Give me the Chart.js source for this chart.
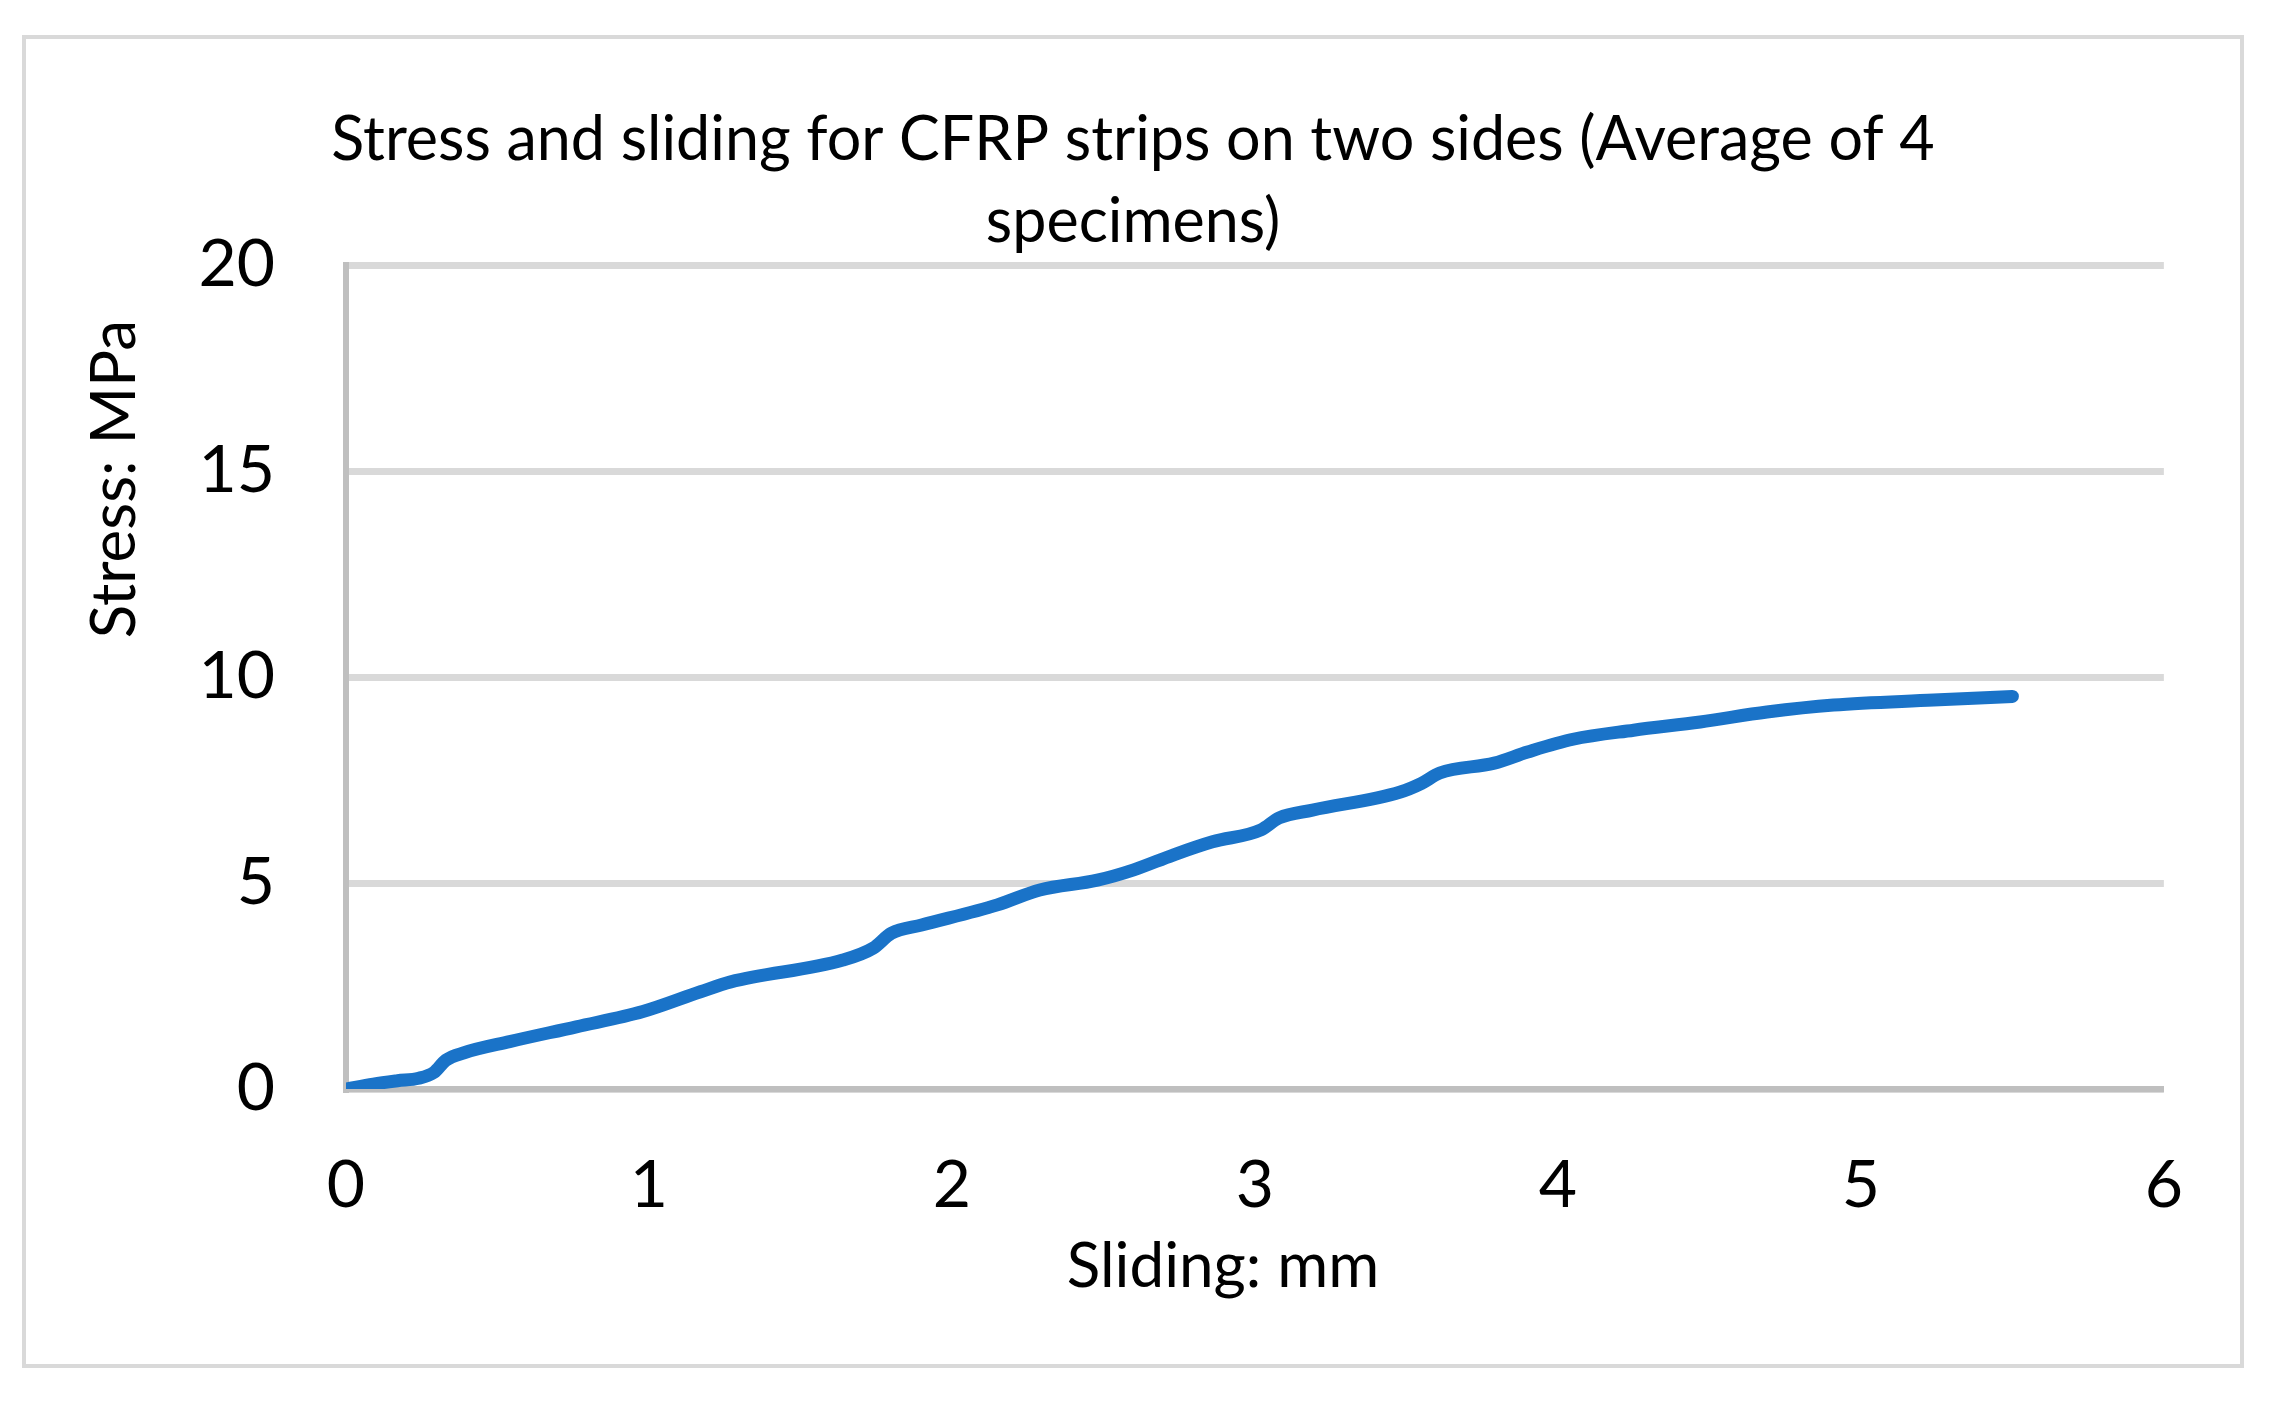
<!DOCTYPE html>
<html>
<head>
<meta charset="utf-8">
<script src="https://cdn.jsdelivr.net/npm/chart.js@4/dist/chart.umd.min.js"></script>
<style>
  html, body { margin: 0; padding: 0; background: #fff; }
  #box {
    position: absolute;
    left: 22px;
    top: 35px;
    width: 2214px;
    height: 1325px;
    border: 4px solid #d9d9d9;
    background: #fff;
  }
</style>
</head>
<body>
<div id="box"><canvas id="stress-chart" width="2214" height="1325"></canvas></div>
<script>
// Sliding (mm) and stress (MPa)
const sliding = [0, 0.09, 0.17, 0.24, 0.29, 0.33, 0.39, 0.54, 0.76, 0.98, 1.17, 1.27, 1.64, 1.74, 1.8, 1.9, 2.15, 2.29, 2.48, 2.6, 2.73, 2.86, 3.02, 3.08, 3.19, 3.48, 3.55, 3.61, 3.79, 3.9, 4.05, 4.25, 4.47, 4.69, 4.91, 5.24, 5.5];
const stress = [0, 0.12, 0.2, 0.26, 0.4, 0.7, 0.88, 1.15, 1.51, 1.88, 2.36, 2.6, 3.13, 3.42, 3.78, 3.98, 4.47, 4.83, 5.07, 5.32, 5.68, 6.0, 6.29, 6.58, 6.77, 7.21, 7.42, 7.67, 7.91, 8.18, 8.49, 8.71, 8.91, 9.15, 9.32, 9.44, 9.53];

const titleLines = ["Stress and sliding for CFRP strips on two sides (Average of 4", "specimens)"];
const xTitle = "Sliding: mm";
const yTitle = "Stress: MPa";

const FONT = "Lato, 'Open Sans', sans-serif";

// axis titles drawn by hand, the Excel original puts them off-centre
const axisTitles = {
  id: "axisTitles",
  afterDraw(chart) {
    const { ctx, chartArea } = chart;
    ctx.save();
    ctx.fillStyle = "#000";
    ctx.font = "62px " + FONT;
    ctx.textAlign = "center";
    ctx.textBaseline = "middle";
    ctx.fillText(xTitle, chartArea.left + 877, chartArea.bottom + 178);
    ctx.translate(chartArea.left - 231, chartArea.top + 214);
    ctx.rotate(-Math.PI / 2);
    ctx.fillText(yTitle, 0, 0);
    ctx.restore();
  },
};

const points = sliding.map((x, i) => ({ x: x, y: stress[i] }));

new Chart(document.getElementById("stress-chart"), {
  type: "line",
  data: {
    datasets: [
      {
        data: points,
        borderColor: "#1a73c8",
        borderWidth: 13,
        borderCapStyle: "round",
        borderJoinStyle: "round",
        pointRadius: 0,
        cubicInterpolationMode: "monotone",
        fill: false,
      },
    ],
  },
  options: {
    responsive: false,
    animation: false,
    devicePixelRatio: 1,
    layout: { padding: 0 },
    plugins: {
      legend: { display: false },
      tooltip: { enabled: false },
      title: {
        display: true,
        text: titleLines,
        color: "#000",
        font: { family: FONT, size: 61, weight: "normal", lineHeight: 1.345 },
        padding: { top: 60, bottom: 2 },
      },
    },
    scales: {
      x: {
        type: "linear",
        min: 0,
        max: 6,
        ticks: {
          stepSize: 1,
          color: "#000",
          padding: 57,
          font: { family: FONT, size: 66, lineHeight: 1.2 },
        },
        grid: { display: false, drawTicks: false },
        border: { display: true, color: "#bfbfbf", width: 6 },
        afterFit: (s) => { s.height = 275; },
      },
      y: {
        min: 0,
        max: 20,
        ticks: {
          stepSize: 5,
          color: "#000",
          padding: 71,
          font: { family: FONT, size: 66, lineHeight: 1.2 },
        },
        grid: { color: "#d9d9d9", lineWidth: 7, drawTicks: false },
        border: { display: true, color: "#bfbfbf", width: 6 },
        afterFit: (s) => { s.width = 320; },
      },
      // empty right-hand strip so the title stays centred on the whole box
      spacer: {
        position: "right",
        min: 0,
        max: 20,
        ticks: { display: false },
        grid: { display: false, drawTicks: false },
        border: { display: false },
        afterFit: (s) => { s.width = 68; },
      },
    },
  },
  plugins: [axisTitles],
});
</script>
</body>
</html>
